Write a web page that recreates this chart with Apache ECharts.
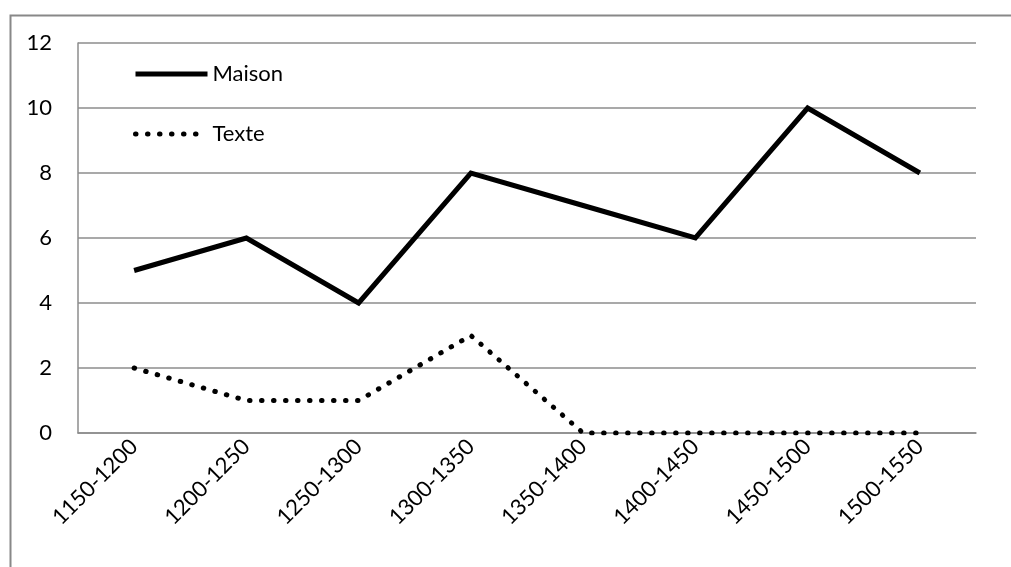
<!DOCTYPE html>
<html>
<head>
<meta charset="utf-8">
<script src="https://cdn.jsdelivr.net/npm/echarts@6/dist/echarts.min.js"></script>
<style>html,body{margin:0;padding:0;background:#fff}#c{width:1011px;height:567px}</style>
</head>
<body>
<div id="c"></div>
<script>
const categories = ['1150-1200','1200-1250','1250-1300','1300-1350','1350-1400','1400-1450','1450-1500','1500-1550'];
const maison = [5, 6, 4, 8, 7, 6, 10, 8];
const texte = [2, 1, 1, 3, 0, 0, 0, 0];
const yTicks = { min: 0, max: 12, interval: 2 };

const chart = echarts.init(document.getElementById('c'));
const font = 'Lato, "Open Sans", sans-serif';
chart.setOption({
  animation: false,
  backgroundColor: '#fff',
  graphic: [{
    type: 'rect', left: 8, top: 13,
    shape: { width: 1010, height: 570 },
    style: { fill: 'none', stroke: '#888', lineWidth: 2 }, silent: true
  }],
  grid: { left: 78, top: 43, right: 35, bottom: 134, containLabel: false },
  legend: {
    orient: 'vertical', left: 128, top: 58,
    itemWidth: 72, itemHeight: 22, itemGap: 38,
    itemStyle: { opacity: 0 },
    textStyle: { fontFamily: font, fontSize: 22, color: '#000' },
    data: [
      { name: 'Maison', lineStyle: { width: 5, color: '#000' } },
      { name: 'Texte', lineStyle: { width: 5, color: '#000', type: [0.5, 11.5], cap: 'round' } }
    ]
  },
  xAxis: {
    type: 'category', data: categories, boundaryGap: true,
    axisLine: { lineStyle: { color: '#8c8c8c', width: 1.5 } },
    axisTick: { show: false },
    axisLabel: { rotate: 45, fontFamily: font, fontSize: 22, color: '#000', margin: 10, interval: 0 }
  },
  yAxis: {
    type: 'value', min: yTicks.min, max: yTicks.max, interval: yTicks.interval,
    axisLine: { show: true, lineStyle: { color: '#8c8c8c', width: 1.5 } },
    axisTick: { show: false },
    splitLine: { lineStyle: { color: '#8c8c8c', width: 1.5 } },
    axisLabel: { fontFamily: font, fontSize: 22, color: '#000', margin: 26 }
  },
  series: [
    { name: 'Maison', type: 'line', data: maison, symbol: 'none',
      lineStyle: { color: '#000', width: 5, join: 'miter' }, itemStyle: { color: '#000' } },
    { name: 'Texte', type: 'line', data: texte, symbol: 'none',
      lineStyle: { color: '#000', width: 5, type: [0.5, 11.5], cap: 'round' }, itemStyle: { color: '#000' } }
  ]
});
</script>
</body>
</html>
